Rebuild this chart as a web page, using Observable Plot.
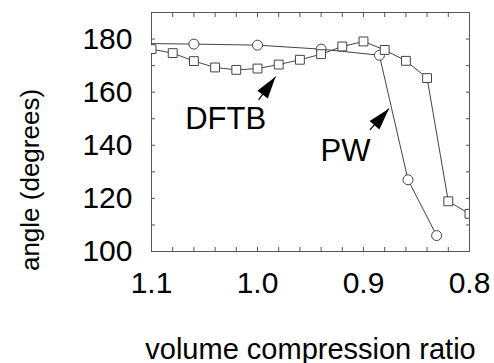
<!DOCTYPE html>
<html><head><meta charset="utf-8">
<script src="https://cdn.jsdelivr.net/npm/d3@7"></script>
<script src="https://cdn.jsdelivr.net/npm/@observablehq/plot@0.6"></script>
<style>body{margin:0;background:#fff;}</style>
</head><body><div id="chart"></div>
<script>
// DFTB series (squares)
const dftbRatio = [1.10,1.08,1.06,1.04,1.02,1.00,0.98,0.96,0.94,0.92,0.90,0.88,0.86,0.84,0.82,0.80];
const dftbAngle = [176.2,174.7,171.7,169.3,168.4,168.9,170.4,172.2,174.3,177.2,179.1,175.9,171.8,165.3,118.9,114.2];
// PW series (circles)
const pwRatio = [1.12,1.06,1.00,0.94,0.885,0.858,0.831];
const pwAngle = [178.4,178.1,177.7,176.2,173.9,127.0,106.0];
// annotations
const noteText = ["DFTB","PW"];
const noteX = [1.030,0.917];
const noteY = [150,138];
const arrowX1 = [0.999,0.894];
const arrowY1 = [157.1,145.8];
const arrowX2 = [0.983,0.876];
const arrowY2 = [165.8,153.8];
// ticks and axis titles
const xTickLabels = [1.1,1.0,0.9,0.8];
const xMinorTicks = [0.80,0.82,0.84,0.86,0.88,0.90,0.92,0.94,0.96,0.98,1.00,1.02,1.04,1.06,1.08,1.10];
const yTickLabels = [100,120,140,160,180];
const yMinorTicks = [100,110,120,130,140,150,160,170,180,190];
const xTitle = "volume compression ratio";
const yTitle = "angle (degrees)";

const dftb = dftbRatio.map((r,i)=>({r, a: dftbAngle[i]}));
const pw = pwRatio.map((r,i)=>({r, a: pwAngle[i]}));
const notes = noteText.map((t,i)=>({t, x: noteX[i], y: noteY[i]}));
const arrows = arrowX1.map((x1,i)=>({x1, y1: arrowY1[i], x2: arrowX2[i], y2: arrowY2[i]}));

const headSymbol = {draw(ctx){ ctx.moveTo(0,0); ctx.lineTo(-6.5,22); ctx.lineTo(6.5,22); ctx.closePath(); }};
const headAngles = [36,41];

const lineColor = "#444";
const plot = Plot.plot({
  width: 494, height: 363,
  marginLeft: 151, marginRight: 25, marginTop: 12, marginBottom: 112,
  style: {fontFamily: "'Liberation Sans', Arial, Helvetica, sans-serif", background: "#fff", color: "#000"},
  x: {domain: [1.1, 0.8]},
  y: {domain: [100, 190]},
  marks: [
    Plot.frame({stroke: "#555"}),
    Plot.axisX({anchor: "bottom", ticks: xMinorTicks, tickSize: -4, tickFormat: () => "", label: null, stroke: "#555"}),
    Plot.axisX({anchor: "top", ticks: xMinorTicks, tickSize: -4, tickFormat: () => "", label: null, stroke: "#555"}),
    Plot.axisY({anchor: "left", ticks: yMinorTicks, tickSize: -4, tickFormat: () => "", label: null, stroke: "#555"}),
    Plot.axisY({anchor: "right", ticks: yMinorTicks, tickSize: -4, tickFormat: () => "", label: null, stroke: "#555"}),
    Plot.axisX({anchor: "bottom", ticks: xTickLabels, tickSize: 0, tickPadding: 20, tickFormat: d3.format(".1f"), fontSize: 30, label: null}),
    Plot.axisX({anchor: "bottom", ticks: [], label: xTitle, labelAnchor: "center", labelArrow: "none", labelOffset: 107, fontSize: 29}),
    Plot.axisY({anchor: "left", ticks: yTickLabels, tickSize: 0, tickPadding: 19, fontSize: 30, label: null}),
    Plot.text([yTitle], {text: d => d, frameAnchor: "left", textAnchor: "middle", lineAnchor: "middle", rotate: -90, dx: -121, dy: 48, fontSize: 26, fill: "#000"}),
    Plot.line(pw, {x: "r", y: "a", stroke: lineColor, strokeWidth: 1, clip: true}),
    Plot.line(dftb, {x: "r", y: "a", stroke: lineColor, strokeWidth: 1, clip: true}),
    Plot.dot(pw, {x: "r", y: "a", r: 5, stroke: lineColor, fill: "white", strokeWidth: 1, clip: true}),
    Plot.dot(dftb, {x: "r", y: "a", r: 5, symbol: "square", stroke: lineColor, fill: "white", strokeWidth: 1, clip: true}),
    Plot.text(notes, {x: "x", y: "y", text: "t", fontSize: 31, fill: "#000"}),
    Plot.link(arrows, {x1: "x1", y1: "y1", x2: "x2", y2: "y2", stroke: "#000", strokeWidth: 1.2}),
    Plot.dot(arrows, {x: "x2", y: "y2", symbol: headSymbol, fill: "#000", stroke: "none", rotate: (d,i) => headAngles[i]})
  ]
});
document.getElementById("chart").appendChild(plot);
</script>
</body></html>
